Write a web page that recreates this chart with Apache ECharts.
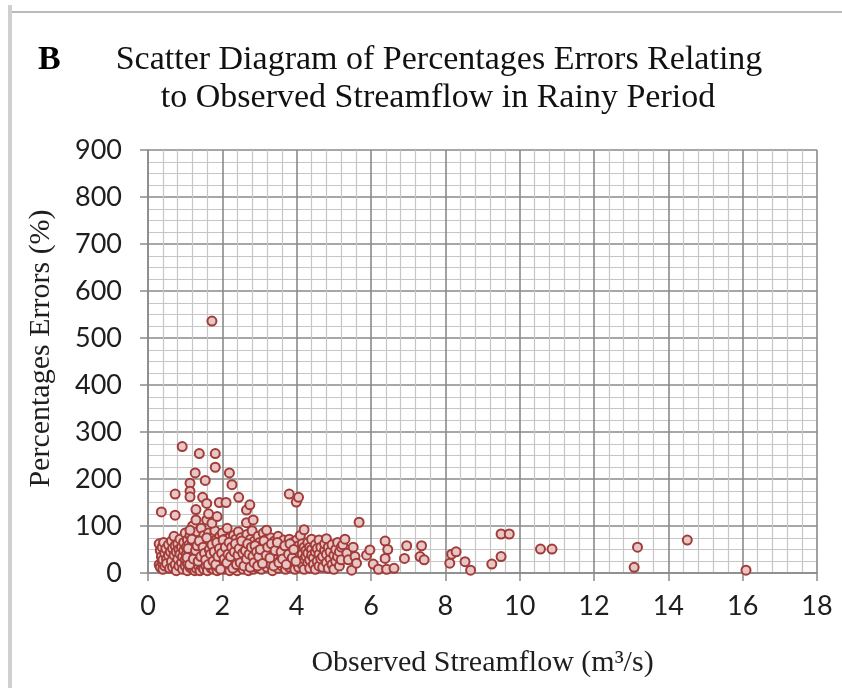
<!DOCTYPE html>
<html>
<head>
<meta charset="utf-8">
<script src="https://cdn.jsdelivr.net/npm/echarts@6/dist/echarts.min.js"></script>
<style>
html,body{margin:0;padding:0;background:#fff;}
#chart{width:842px;height:688px;}
</style>
</head>
<body>
<div id="chart"></div>
<script>
// Observed streamflow (m3/s) vs percentage error (%), grouped by streamflow band
const band0to1 = [[0.30,62],[0.30,18],[0.33,48],[0.33,12],[0.36,35],[0.38,55],[0.38,22],[0.40,28],[0.40,8],[0.42,65],[0.45,42],[0.45,15],[0.48,52],[0.50,30],[0.50,20],[0.55,60],[0.55,38],[0.58,10],[0.60,45],[0.63,25],[0.63,68],[0.66,52],[0.66,12],[0.70,38],[0.70,78],[0.73,18],[0.73,58],[0.76,45],[0.76,5],[0.80,30],[0.80,62],[0.83,50],[0.83,15],[0.86,72],[0.86,40],[0.90,22],[0.90,55],[0.93,35],[0.93,8],[0.96,65],[0.96,48],
  [0.36,130],[0.73,168],[0.73,123],[0.92,269]];
const band1to2 = [[1.00,28],[1.00,15],[1.00,85],[1.03,55],[1.03,40],[1.06,70],[1.06,20],[1.06,5],[1.10,45],[1.10,32],[1.10,60],[1.13,12],[1.13,80],[1.16,50],[1.16,25],[1.16,38],[1.20,65],[1.20,8],[1.20,100],[1.23,42],[1.23,55],[1.23,18],[1.26,30],[1.26,75],[1.26,5],[1.30,48],[1.30,62],[1.30,22],[1.30,10],[1.33,35],[1.33,88],[1.36,58],[1.36,15],[1.36,45],[1.40,70],[1.40,28],[1.40,5],[1.40,40],[1.43,52],[1.43,95],[1.43,20],[1.46,38],[1.46,65],[1.46,12],[1.50,45],[1.50,30],[1.50,80],[1.50,8],[1.53,55],[1.53,22],[1.53,68],[1.56,40],[1.56,15],[1.56,60],[1.60,72],[1.60,35],[1.60,5],[1.60,50],[1.63,28],[1.63,85],[1.63,45],[1.66,62],[1.66,18],[1.66,38],[1.70,52],[1.70,10],[1.70,75],[1.70,30],[1.73,42],[1.73,65],[1.73,22],[1.76,58],[1.76,8],[1.76,35],[1.80,48],[1.80,28],[1.80,90],[1.80,15],[1.83,70],[1.83,38],[1.83,55],[1.86,25],[1.86,45],[1.86,5],[1.90,62],[1.90,32],[1.90,50],[1.90,12],[1.93,40],[1.93,78],[1.93,20],[1.96,55],[1.96,30],[1.96,68],
  [1.13,191],[1.13,174],[1.13,162],[1.13,91],[1.27,213],[1.29,135],[1.29,113],[1.38,254],[1.47,161],[1.54,197],[1.58,148],[1.58,113],[1.63,126],[1.72,106],[1.72,536],[1.81,254],[1.81,225],[1.86,120],[1.92,150]];
const band2to3 = [[2.00,45],[2.00,15],[2.00,85],[2.00,35],[2.03,60],[2.03,25],[2.03,50],[2.06,38],[2.06,72],[2.06,8],[2.10,52],[2.10,28],[2.10,42],[2.10,18],[2.13,65],[2.13,35],[2.13,95],[2.16,48],[2.16,12],[2.16,58],[2.20,30],[2.20,75],[2.20,40],[2.20,5],[2.23,55],[2.23,22],[2.23,62],[2.26,45],[2.26,35],[2.26,15],[2.30,68],[2.30,28],[2.30,50],[2.30,80],[2.33,38],[2.33,10],[2.33,58],[2.36,48],[2.36,25],[2.36,72],[2.40,32],[2.40,60],[2.40,5],[2.40,42],[2.43,55],[2.43,18],[2.43,88],[2.46,40],[2.46,65],[2.46,28],[2.50,50],[2.50,12],[2.50,35],[2.50,75],[2.53,62],[2.53,22],[2.53,45],[2.56,30],[2.56,55],[2.56,8],[2.60,42],[2.60,70],[2.60,18],[2.60,52],[2.63,35],[2.63,60],[2.63,25],[2.66,48],[2.66,12],[2.66,82],[2.70,38],[2.70,58],[2.70,28],[2.70,5],[2.73,65],[2.73,45],[2.73,20],[2.76,52],[2.76,32],[2.76,72],[2.80,40],[2.80,15],[2.80,60],[2.80,90],[2.83,28],[2.83,50],[2.83,8],[2.86,45],[2.86,68],[2.86,35],[2.90,55],[2.90,22],[2.90,40],[2.93,30],[2.93,62],[2.93,12],[2.96,48],[2.96,78],[2.96,25],
  [2.10,150],[2.19,213],[2.26,188],[2.44,161],[2.65,134],[2.65,107],[2.74,145],[2.83,113]];
const band3to4 = [[3.00,38],[3.00,55],[3.00,15],[3.00,65],[3.05,45],[3.05,28],[3.05,8],[3.10,60],[3.10,35],[3.10,50],[3.10,85],[3.15,22],[3.15,42],[3.15,70],[3.20,52],[3.20,30],[3.20,12],[3.25,40],[3.25,62],[3.25,25],[3.30,48],[3.30,18],[3.30,75],[3.35,35],[3.35,55],[3.35,5],[3.40,42],[3.40,68],[3.40,28],[3.45,58],[3.45,20],[3.45,38],[3.50,32],[3.50,50],[3.50,10],[3.50,78],[3.55,45],[3.55,25],[3.55,62],[3.60,38],[3.60,55],[3.60,15],[3.65,28],[3.65,70],[3.65,48],[3.70,52],[3.70,35],[3.70,8],[3.75,42],[3.75,60],[3.75,22],[3.80,30],[3.80,50],[3.80,72],[3.80,12],[3.85,45],[3.85,25],[3.85,58],[3.90,38],[3.90,65],[3.90,18],[3.95,52],[3.95,30],[3.95,8],
  [3.19,91],[3.80,168],[3.99,151]];
const band4to5 = [[4.00,45],[4.00,70],[4.00,22],[4.05,35],[4.05,58],[4.05,12],[4.10,48],[4.10,28],[4.10,80],[4.15,40],[4.15,62],[4.15,18],[4.20,55],[4.20,30],[4.20,8],[4.20,92],[4.25,35],[4.25,48],[4.30,65],[4.30,22],[4.30,42],[4.35,28],[4.35,55],[4.35,10],[4.40,50],[4.40,38],[4.40,72],[4.45,32],[4.45,18],[4.50,45],[4.50,60],[4.50,8],[4.55,25],[4.55,52],[4.60,40],[4.60,70],[4.60,15],[4.65,55],[4.65,30],[4.70,35],[4.70,12],[4.75,48],[4.75,62],[4.80,22],[4.80,40],[4.80,73],[4.85,55],[4.85,10],[4.90,30],[4.90,45],[4.95,18],[4.95,60],[5.00,38],[5.00,8],[5.05,50],[5.05,25],[5.10,65],[5.10,35],[5.15,15],[5.15,45],[5.20,28],[5.20,55],
  [4.05,161]];
const band5plus = [[5.24,60],[5.30,72],[5.35,42],[5.39,28],[5.48,6],[5.52,55],[5.57,35],[5.61,21],[5.68,108],[5.88,38],[5.97,49],[6.06,19],[6.20,8],[6.38,68],[6.38,31],[6.42,8],[6.45,50],[6.62,10],[6.90,31],[6.96,58],[7.32,35],[7.36,58],[7.43,28],[8.12,21],[8.17,40],[8.29,45],[8.53,24],[8.68,6],[9.25,19],[9.50,35],[9.50,83],[9.72,83],[10.56,51],[10.87,51],[13.08,12],[13.17,55],[14.51,70],[16.09,6]];
const denseCore = [[1.05,33],[1.08,52],[1.12,18],[1.18,72],[1.22,30],[1.28,48],[1.32,58],[1.35,25],[1.38,68],[1.42,35],[1.48,55],[1.52,42],[1.55,28],[1.58,75],[1.62,18],[1.65,50],[1.68,40],[1.72,60],[1.75,25],[1.78,45],[1.82,18],[1.85,65],[1.88,35],[1.92,52],[1.95,8],[1.98,42],[2.02,70],[2.05,30],[2.08,55],[2.12,22],[2.15,40],[2.18,65],[2.22,35],[2.25,55],[2.28,10],[2.32,45],[2.35,62],[2.38,18],[2.42,38],[2.45,52],[2.48,22],[2.52,68],[2.55,42],[2.58,15],[2.62,48],[2.65,30],[2.68,62],[2.72,40],[2.75,12],[2.78,55],[2.82,35],[2.85,22],[2.88,58],[2.92,45],[2.95,15],[2.98,35],[3.02,50],[3.08,20],[3.12,68],[3.18,38],[3.22,55],[3.28,32],[3.32,62],[3.38,15],[3.42,48],[3.48,65],[3.52,22],[3.58,45],[3.62,30],[3.68,58],[3.72,18],[3.78,40],[3.82,62],[3.88,32],[3.92,50],[3.98,25]];

const xTicks = [0,2,4,6,8,10,12,14,16,18];
const yTicks = [0,100,200,300,400,500,600,700,800,900];

const titleLine1 = 'Scatter Diagram of Percentages Errors Relating';
const titleLine2 = 'to Observed Streamflow in Rainy Period';
const panelLetter = 'B';
const xName = 'Observed Streamflow (m³/s)';
const yName = 'Percentages Errors (%)';

const allPoints = [].concat(band0to1, band1to2, band2to3, band3to4, band4to5, band5plus, denseCore);

const chart = echarts.init(document.getElementById('chart'), null, {renderer:'canvas'});
const serif = '"Liberation Serif","Times New Roman",serif';
const majorColor = '#8a8a8a';
const minorColor = '#c6c6c6';
chart.setOption({
  animation: false,
  backgroundColor: '#ffffff',
  grid: {left:148, right:25, top:150, bottom:115},
  xAxis: {
    type:'value', min:xTicks[0], max:xTicks[xTicks.length-1], interval:2,
    axisLine:{show:true, onZero:false, lineStyle:{color:majorColor, width:1.5}},
    axisTick:{show:true, length:8, lineStyle:{color:majorColor, width:1.5}},
    axisLabel:{fontFamily:'Lato', fontSize:27, color:'#1e1e1e', margin:20},
    splitLine:{show:true, lineStyle:{color:majorColor, width:1.6}},
    minorTick:{show:false, splitNumber:5},
    minorSplitLine:{show:true, lineStyle:{color:minorColor, width:1.2}},
    name:xName, nameLocation:'middle', nameGap:75,
    nameTextStyle:{fontFamily:serif, fontSize:30, color:'#1e1e1e'}
  },
  yAxis: {
    type:'value', min:yTicks[0], max:yTicks[yTicks.length-1], interval:100,
    axisLine:{show:true, onZero:false, lineStyle:{color:majorColor, width:1.5}},
    axisTick:{show:true, length:8, lineStyle:{color:majorColor, width:1.5}},
    axisLabel:{fontFamily:'Lato', fontSize:27, color:'#1e1e1e', margin:26},
    splitLine:{show:true, lineStyle:{color:majorColor, width:1.6}},
    minorTick:{show:false, splitNumber:4},
    minorSplitLine:{show:true, lineStyle:{color:minorColor, width:1.2}},
    name:yName, nameLocation:'middle', nameGap:92,
    nameTextStyle:{fontFamily:serif, fontSize:30, color:'#1e1e1e', padding:[0,0,0,26]}
  },
  series: [{
    type:'scatter',
    data: allPoints,
    symbol:'circle',
    symbolSize:9,
    itemStyle:{color:'#e8c6c6', borderColor:'#a23c39', borderWidth:2, opacity:1}
  }],
  graphic: [
    {type:'line', shape:{x1:10, y1:5, x2:10, y2:688}, style:{stroke:'#d0d0d0', lineWidth:4}},
    {type:'line', shape:{x1:12, y1:12, x2:842, y2:12}, style:{stroke:'#a3a3a3', lineWidth:1.5}},
    {type:'text', x:38, y:60, style:{text:panelLetter, font:'bold 34px ' + serif, fill:'#000', verticalAlign:'middle'}},
    {type:'text', x:439, y:60, style:{text:titleLine1, font:'34px ' + serif, fill:'#111', align:'center', verticalAlign:'middle'}},
    {type:'text', x:438, y:98, style:{text:titleLine2, font:'34px ' + serif, fill:'#111', align:'center', verticalAlign:'middle'}}
  ]
});
</script>
</body>
</html>
